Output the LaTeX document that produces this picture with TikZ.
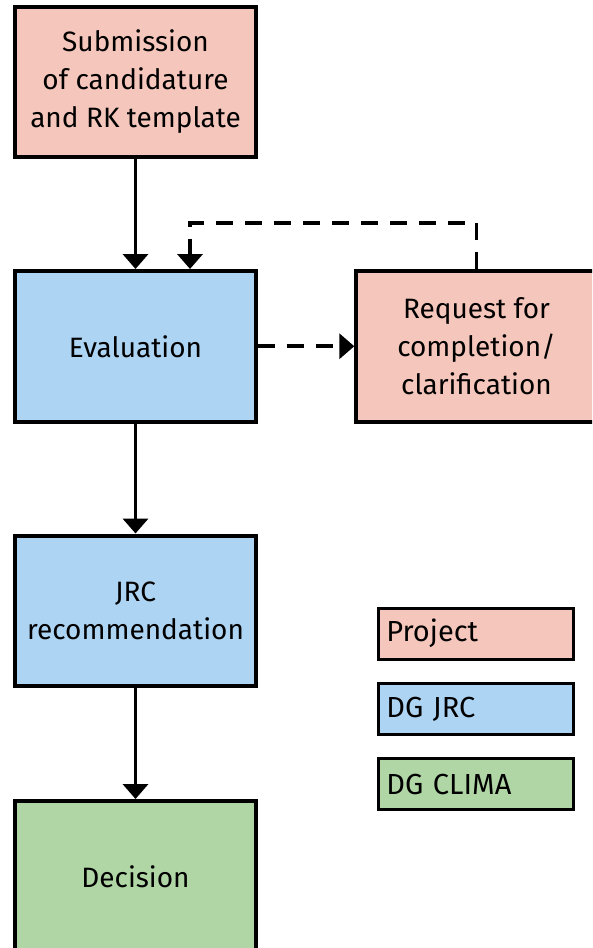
\documentclass[tikz,border=0pt]{standalone}
\usepackage{fontspec}
\setmainfont{Fira Sans}
\usepackage{xcolor}
\definecolor{colorProject}{HTML}{F5C6BB}
\definecolor{colorJRC}{HTML}{ADD4F3}
\definecolor{colorClima}{HTML}{B0D6A5}
\usetikzlibrary{arrows.meta, positioning}
\tikzset{
  stepbox/.style={draw, line width=4pt, minimum width=240.4pt, minimum height=150.5pt, align=center, inner sep=0pt, font=\fontsize{28}{38}\selectfont},
  legendbox/.style={draw, line width=3pt, minimum width=195.3pt, minimum height=51pt, text width=179pt, align=left, inner sep=0pt, font=\fontsize{29}{30}\selectfont},
  flow/.style={line width=3.8pt, -{Triangle[length=15pt, width=25pt]}},
  feedback/.style={flow, dash pattern=on 17pt off 12pt}
}

\begin{document}
\begin{tikzpicture}[x=1pt, y=1pt, node distance=110pt]
\useasboundingbox (0,0) rectangle (592,-948);
\clip (0,0) rectangle (592,-948);
% process steps
\node[stepbox, fill=colorProject] (sub) at (135.5,-81.75) {Submission\\of candidature\\and RK template};
\node[stepbox, fill=colorJRC, below=of sub] (eval) {Evaluation};
\node[stepbox, fill=colorProject, right=96.6pt of eval] (req) {Request for\\completion/\\clarification};
\node[stepbox, fill=colorJRC, below=of eval] (rec) {JRC\\recommendation};
\node[stepbox, fill=colorClima, below=111pt of rec] (dec) {Decision};
% legend
\node[legendbox, fill=colorProject] (proj) at (475.85,-633.7) {Project};
\node[legendbox, fill=colorJRC, below=21.3pt of proj] (jrc) {DG JRC};
\node[legendbox, fill=colorClima, below=21.3pt of jrc] (clima) {DG CLIMA};
% connectors
\draw[flow] (sub) -- (eval);
\draw[flow] (eval) -- (rec);
\draw[flow] (rec) -- (dec);
\draw[feedback] (eval) -- (req);
\draw[feedback] (req.north) -- ++(0,46pt) -| ([xshift=54.5pt]eval.north);
\end{tikzpicture}
\end{document}
